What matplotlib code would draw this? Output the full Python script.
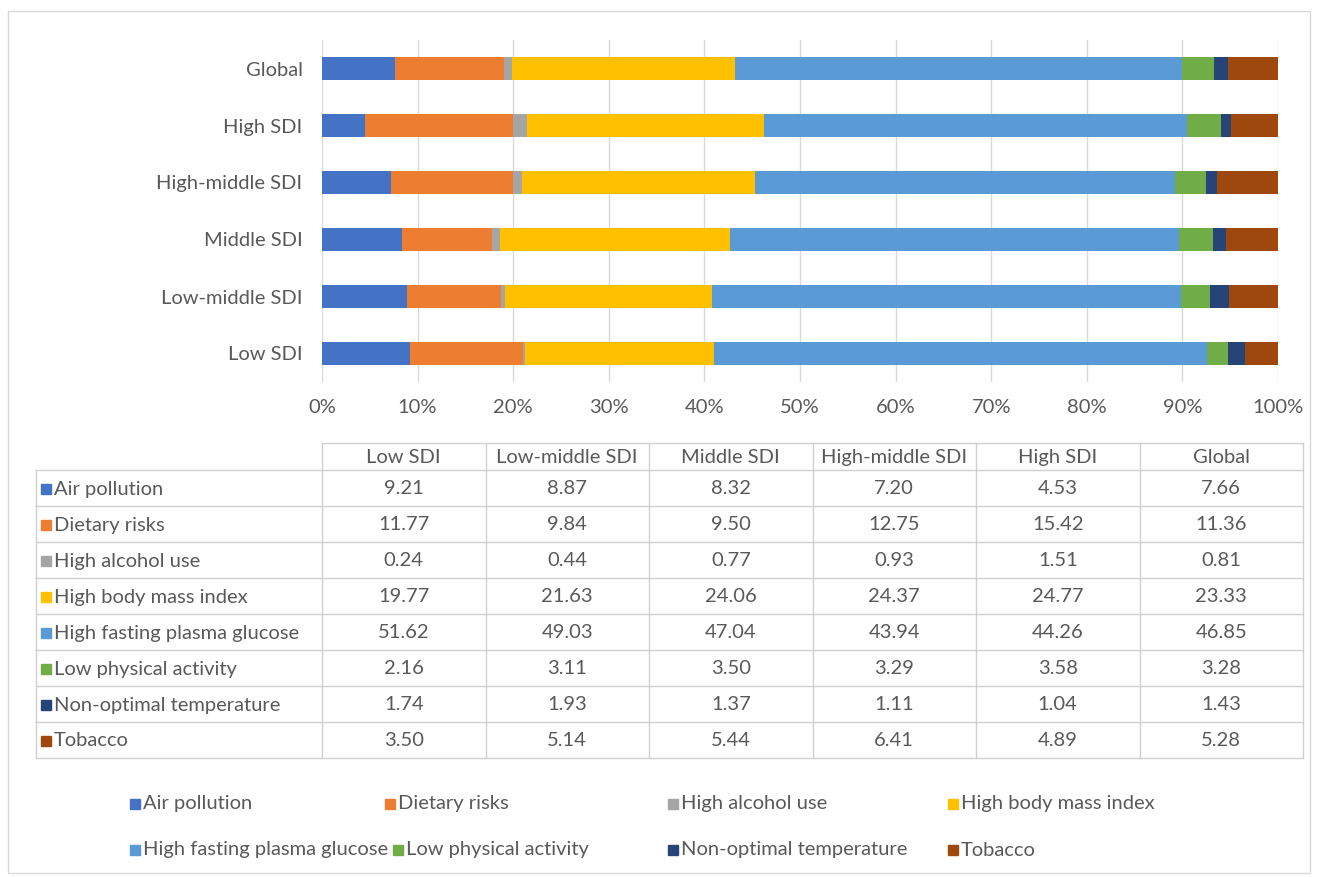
import numpy as np
import matplotlib.pyplot as plt

# columns of the data table, same order as bars from bottom to top
regions = ['Low SDI', 'Low-middle SDI', 'Middle SDI', 'High-middle SDI', 'High SDI', 'Global']
risks = ['Air pollution', 'Dietary risks', 'High alcohol use', 'High body mass index',
         'High fasting plasma glucose', 'Low physical activity', 'Non-optimal temperature', 'Tobacco']

air_pollution = [9.21, 8.87, 8.32, 7.20, 4.53, 7.66]
dietary_risks = [11.77, 9.84, 9.50, 12.75, 15.42, 11.36]
high_alcohol = [0.24, 0.44, 0.77, 0.93, 1.51, 0.81]
high_bmi = [19.77, 21.63, 24.06, 24.37, 24.77, 23.33]
high_fpg = [51.62, 49.03, 47.04, 43.94, 44.26, 46.85]
low_activity = [2.16, 3.11, 3.50, 3.29, 3.58, 3.28]
non_opt_temp = [1.74, 1.93, 1.37, 1.11, 1.04, 1.43]
tobacco = [3.50, 5.14, 5.44, 6.41, 4.89, 5.28]

series = [air_pollution, dietary_risks, high_alcohol, high_bmi,
          high_fpg, low_activity, non_opt_temp, tobacco]
colors = ['#4472C4', '#ED7D31', '#A5A5A5', '#FFC000', '#5B9BD5', '#70AD47', '#264478', '#9E480E']

plt.rcParams['font.family'] = ['Lato', 'DejaVu Sans']
txt = '#595959'
grid = '#D9D9D9'
fs = 14.5
W, H = 1319, 877

fig = plt.figure(figsize=(W / 100, H / 100), dpi=100)

# overlay axes in pixel coordinates for table / legend / frame
ov = fig.add_axes([0, 0, 1, 1])
ov.set_xlim(0, W)
ov.set_ylim(H, 0)
ov.axis('off')

# bar chart
ax = fig.add_axes([322 / W, 1 - 382 / H, (1278 - 322) / W, (382 - 40) / H])
data = np.array(series, dtype=float)
pct = data / data.sum(axis=0) * 100
y = np.arange(len(regions))
left = np.zeros(len(regions))
for i, vals in enumerate(pct):
    ax.barh(y, vals, left=left, height=0.41, color=colors[i], zorder=3)
    left += vals
ax.set_xlim(0, 100)
ax.set_ylim(-0.5, len(regions) - 0.5)
ax.set_xticks(np.arange(0, 101, 10))
ax.set_xticklabels([f'{v}%' for v in range(0, 101, 10)])
ax.set_yticks(y)
ax.set_yticklabels(regions)
ax.grid(axis='x', color=grid, linewidth=1, zorder=0)
for s in ax.spines.values():
    s.set_visible(False)
ax.tick_params(length=0, colors=txt, labelsize=fs)
ax.tick_params(axis='x', pad=12)
ax.tick_params(axis='y', pad=14)

# data table
xl, x0, x1 = 36, 322, 1303
colw = (x1 - x0) / len(regions)
ytop, yh, rowh = 443, 470, 36
ybot = yh + rowh * len(risks)
lc = '#D0D0D0'
ov.plot([x0, x1], [ytop, ytop], color=lc, lw=1)
for k in range(len(risks) + 1):
    yy = yh + k * rowh
    ov.plot([xl, x1], [yy, yy], color=lc, lw=1)
ov.plot([xl, xl], [yh, ybot], color=lc, lw=1)
for j in range(len(regions) + 1):
    xx = x0 + j * colw
    ov.plot([xx, xx], [ytop, ybot], color=lc, lw=1)
for j, r in enumerate(regions):
    ov.text(x0 + (j + 0.5) * colw, (ytop + yh) / 2 + 1, r, ha='center', va='center',
            color=txt, fontsize=fs)
for k, (name, vals) in enumerate(zip(risks, series)):
    yc = yh + (k + 0.5) * rowh + 1
    ov.add_patch(plt.Rectangle((41, yc - 5), 10, 10, color=colors[k]))
    ov.text(54, yc, name, ha='left', va='center', color=txt, fontsize=fs)
    for j, v in enumerate(vals):
        ov.text(x0 + (j + 0.5) * colw, yc, f'{v:.2f}', ha='center', va='center',
                color=txt, fontsize=fs)

# legend below
leg_x = [[130, 385, 668, 948], [130, 393, 668, 948]]
leg_y = [804, 850]
for k, name in enumerate(risks):
    r, c = divmod(k, 4)
    xx, yy = leg_x[r][c], leg_y[r]
    ov.add_patch(plt.Rectangle((xx, yy - 5), 10, 10, color=colors[k]))
    ov.text(xx + 13, yy, name, ha='left', va='center', color=txt, fontsize=fs)

# outer frame
ov.add_patch(plt.Rectangle((8, 11), 1302, 862, fill=False, edgecolor='#D9D9D9', lw=1))

fig.savefig('out.png', dpi=100)
